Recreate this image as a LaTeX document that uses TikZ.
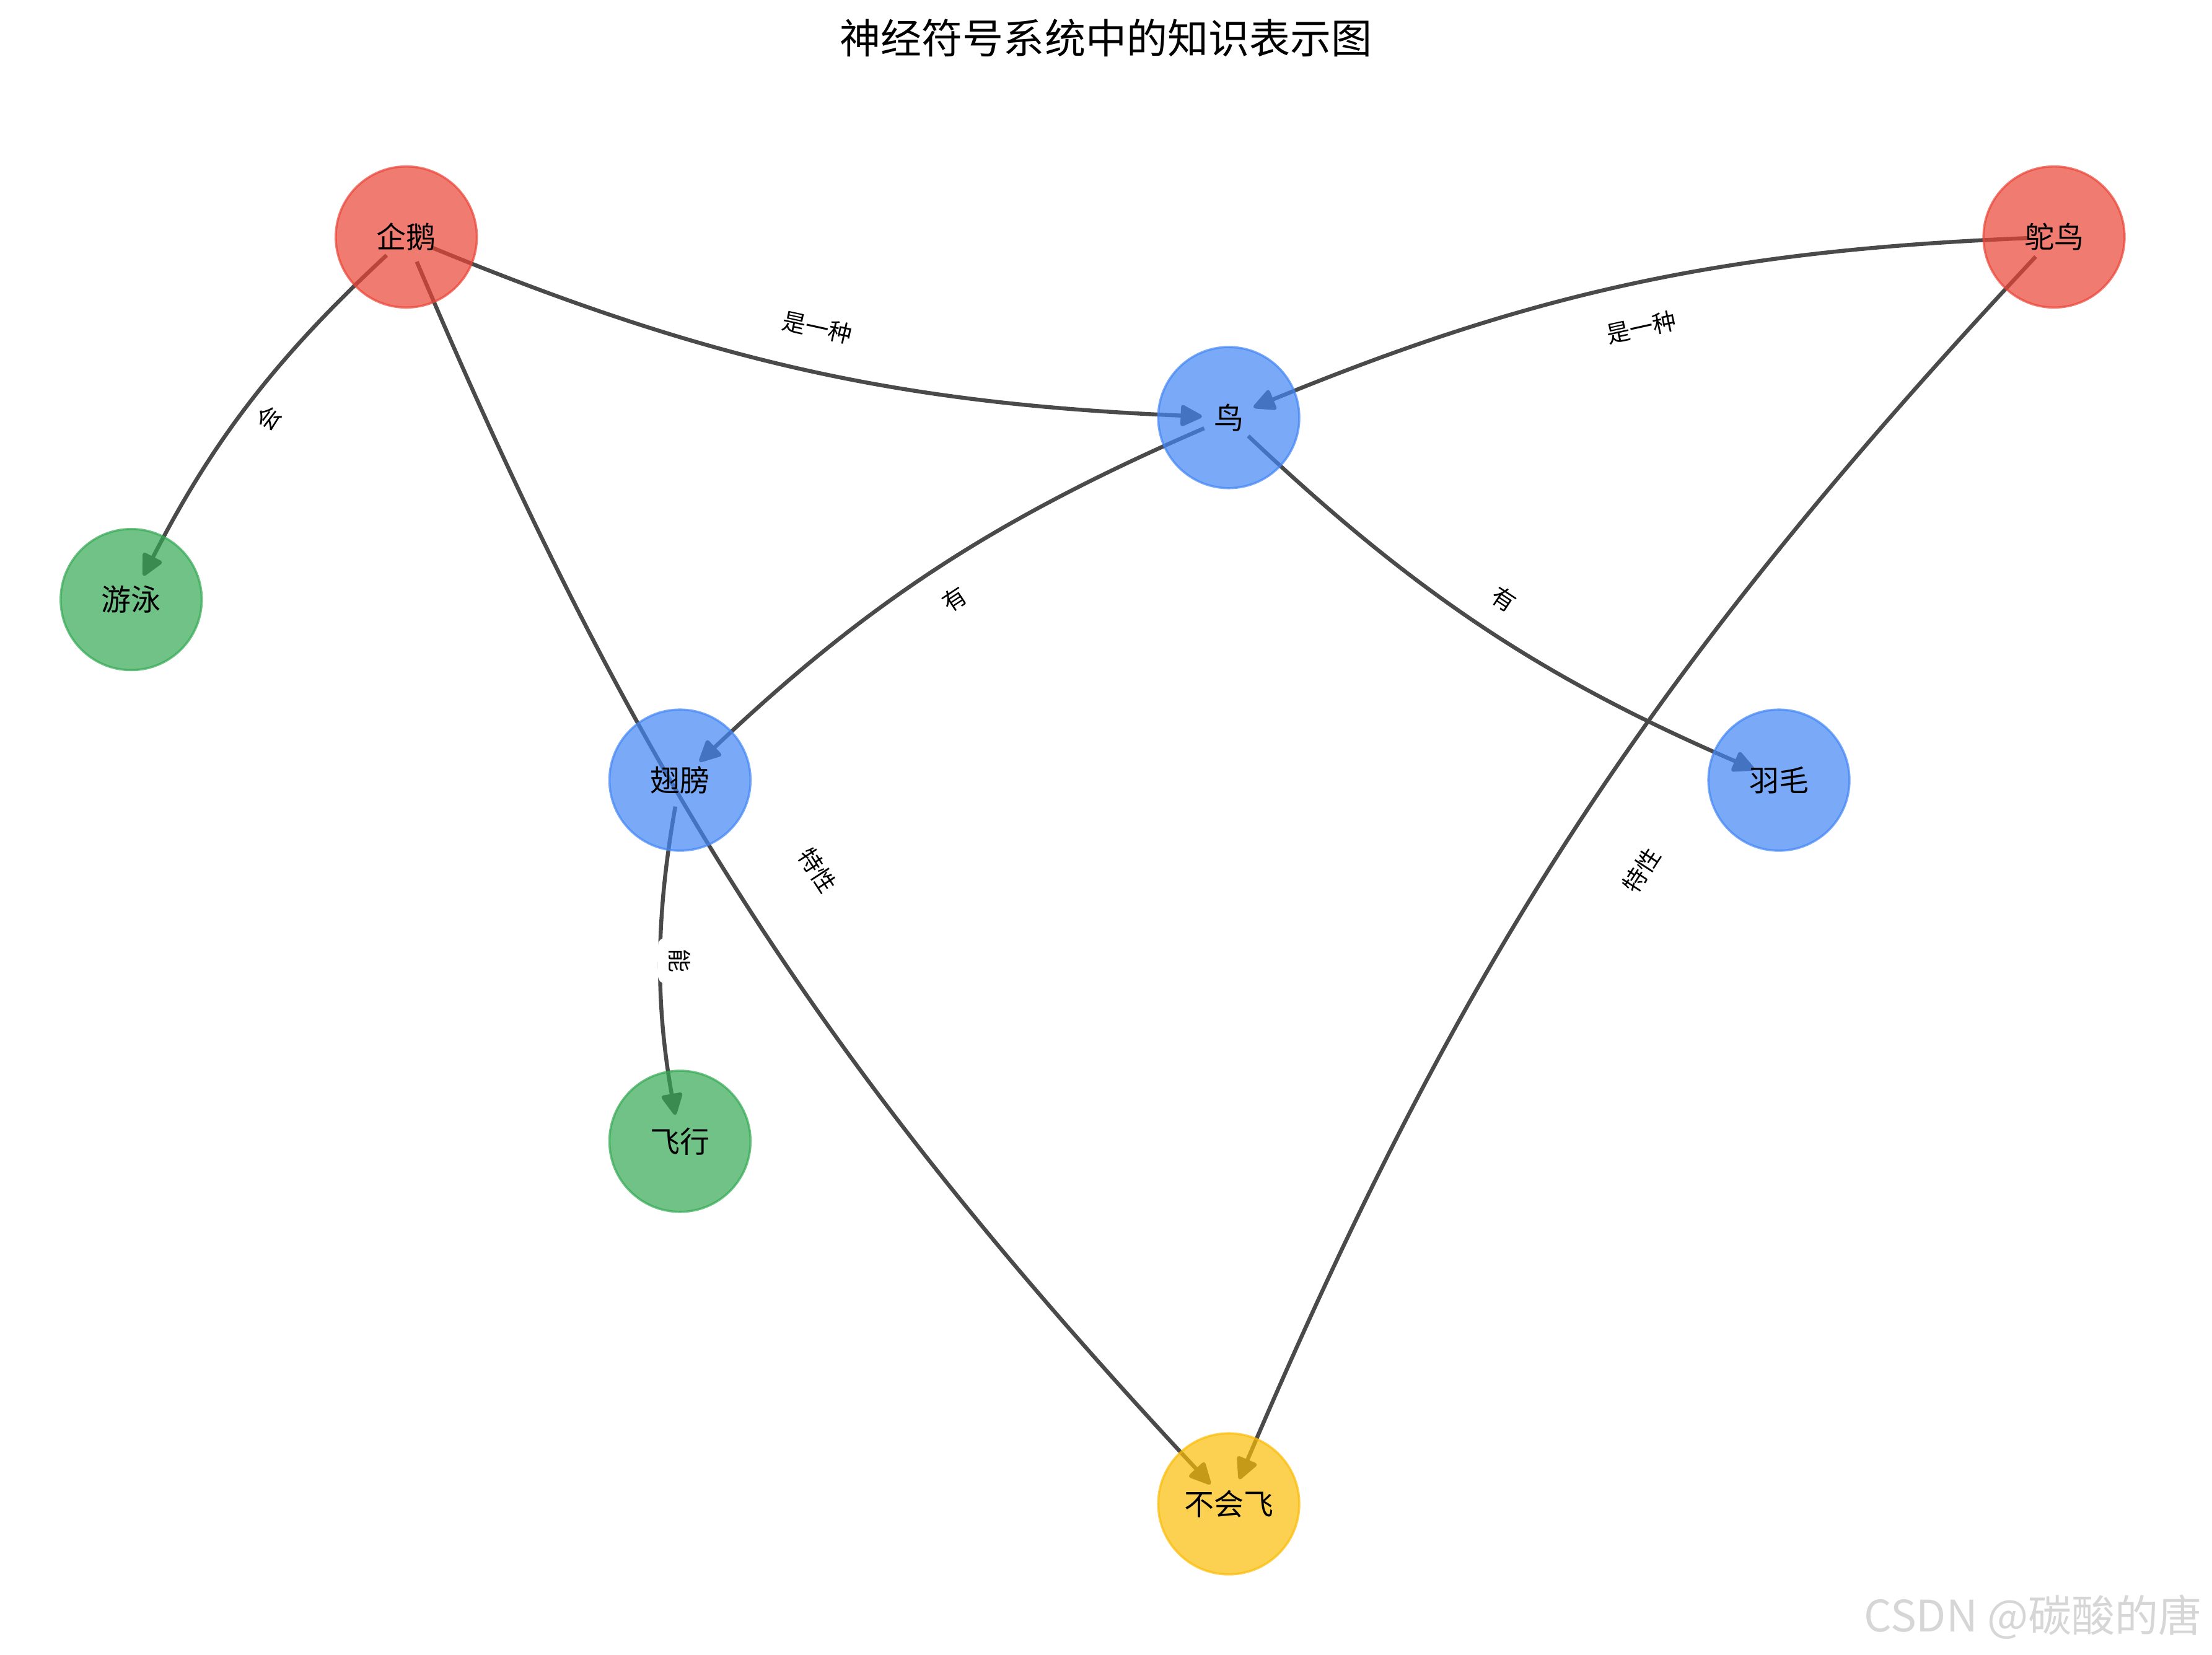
\documentclass[tikz,border=0pt]{standalone}
\usepackage{fontspec}
\newfontfamily\cjk{Noto Sans CJK SC}
\usetikzlibrary{arrows.meta,backgrounds}
\definecolor{gred}{HTML}{EA4335}
\definecolor{gblue}{HTML}{4285F4}
\definecolor{ggreen}{HTML}{34A853}
\definecolor{gyellow}{HTML}{FBBC05}
\definecolor{edgegray}{HTML}{4A4A4A}
\tikzset{
  concept/.style={circle, minimum size=2cm, inner sep=0pt, fill=#1, draw=#1, fill opacity=0.7, draw opacity=0.7, text opacity=1, line width=0.9pt, font=\cjk\fontsize{12}{14}\selectfont},
  rel/.style={draw=edgegray, line width=1.6pt, -{Triangle[length=0.34cm, width=0.32cm, round]}, shorten <=0.38cm, shorten >=0.38cm},
  rellabel/.style={fill=white, rounded corners=3pt, inner sep=4.5pt, font=\cjk\fontsize{9.5}{11}\selectfont}
}
\begin{document}
\begin{tikzpicture}[line join=round, line cap=round]
  \useasboundingbox (0,0) rectangle (31.36,23.46);
  \node[font=\cjk\fontsize{16.5}{20}\selectfont] (title) at (15.68,22.92) {神经符号系统中的知识表示图};

  % concepts
  \node[concept=gred] (qie) at (5.76,20.10) {企鹅};
  \node[concept=gred] (tuo) at (29.12,20.10) {鸵鸟};
  \node[concept=gblue] (niao) at (17.42,17.54) {鸟};
  \node[concept=ggreen] (you) at (1.86,14.96) {游泳};
  \node[concept=gblue] (chi) at (9.64,12.40) {翅膀};
  \node[concept=gblue] (yu) at (25.22,12.40) {羽毛};
  \node[concept=ggreen] (fei) at (9.64,7.28) {飞行};
  \node[concept=gyellow] (bu) at (17.42,2.14) {不会飞};

  % relations, under the concepts
  \begin{scope}[on background layer]
    \draw[rel] (qie.center) to[bend right=10] (niao.center);
    \draw[rel] (tuo.center) to[bend right=10] (niao.center);
    \draw[rel] (qie.center) to[bend right=10] (you.center);
    \draw[rel] (niao.center) to[bend right=10] (chi.center);
    \draw[rel] (niao.center) to[bend right=10] (yu.center);
    \draw[rel] (chi.center) to[bend right=10] (fei.center);
    \draw[rel] (qie.center) to[bend right=10] (bu.center);
    \draw[rel] (tuo.center) to[bend right=10] (bu.center);
  \end{scope}

  \path (qie) -- node[rellabel, rotate=-12.4] {是一种} (niao);
  \path (tuo) -- node[rellabel, rotate=12.4] {是一种} (niao);
  \path (qie) -- node[rellabel, rotate=52.8] {会} (you);
  \path (niao) -- node[rellabel, rotate=33.4] {有} (chi);
  \path (niao) -- node[rellabel, rotate=-33.4] {有} (yu);
  \path (chi) -- node[rellabel, rotate=-90] {能} (fei);
  \path (qie) -- node[rellabel, rotate=-57] {特性} (bu);
  \path (tuo) -- node[rellabel, rotate=57] {特性} (bu);

  \node[anchor=east, text=black!16, font=\cjk\fontsize{17.5}{20}\selectfont] (mark) at (31.34,0.54) {CSDN @碳酸的唐};
\end{tikzpicture}
\end{document}
